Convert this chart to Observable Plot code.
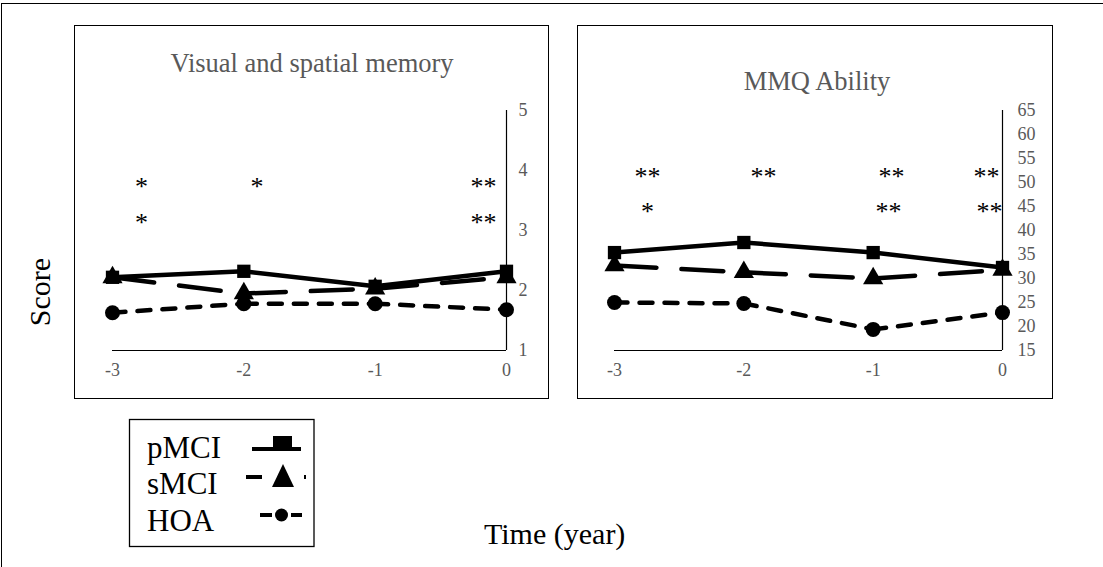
<!DOCTYPE html>
<html><head><meta charset="utf-8">
<script src="https://cdn.jsdelivr.net/npm/d3@7"></script>
<script src="https://cdn.jsdelivr.net/npm/@observablehq/plot@0.6"></script>
<style>
html,body{margin:0;padding:0;background:#fff;width:1103px;height:567px;overflow:hidden;}
#root{position:relative;width:1103px;height:567px;font-family:"Liberation Serif","Times New Roman",serif;}
.abs{position:absolute;}
.box{position:absolute;box-sizing:border-box;border:1.3px solid #000;}
</style></head><body><div id="root"></div>
<script>
// ---- data ----
const timeYears = [-3, -2, -1, 0];
const visualTicks = [1, 2, 3, 4, 5];
const mmqTicks = [15, 20, 25, 30, 35, 40, 45, 50, 55, 60, 65];

const visualPMCI = [2.22, 2.32, 2.07, 2.32];
const visualSMCI = [2.22, 1.95, 2.03, 2.22];
const visualHOA  = [1.63, 1.78, 1.78, 1.68];

const mmqPMCI = [35.4, 37.5, 35.4, 32.3];
const mmqSMCI = [32.7, 31.3, 30.0, 31.8];
const mmqHOA  = [25.0, 24.8, 19.4, 22.9];

const visualStarText = ["*", "*", "*", "**", "**"];
const visualStarX = [-2.78, -2.78, -1.90, -0.175, -0.175];
const visualStarY = [3.8, 3.2, 3.8, 3.8, 3.2];

const mmqStarText = ["**", "*", "**", "**", "**", "**", "**"];
const mmqStarX = [-2.745, -2.745, -1.848, -0.858, -0.881, -0.124, -0.10];
const mmqStarY = [52.1, 44.8, 52.1, 52.1, 44.8, 52.1, 44.8];

const seriesNames = ["pMCI", "sMCI", "HOA"];

// ---- helpers ----
const root = document.getElementById("root");
function place(el, left, top) {
  el.style.position = "absolute";
  el.style.left = left + "px";
  el.style.top = top + "px";
  root.appendChild(el);
}
const rows = vals => timeYears.map((t, i) => ({t, v: vals[i]}));
const segs = vals => d3.pairs(rows(vals)).map(([a, b]) => ({x1: a.t, y1: a.v, x2: b.t, y2: b.v}));

function panel(o) {
  const stars = o.starText.map((s, i) => ({s, x: o.starX[i], y: o.starY[i]}));
  const lw = 4.5;
  return Plot.plot({
    width: o.width, height: o.height,
    marginLeft: o.mL, marginRight: o.mR, marginTop: o.mT, marginBottom: o.mB,
    x: {domain: [-3, 0]},
    y: {domain: [o.yTicks[0], o.yTicks[o.yTicks.length - 1]]},
    style: {fontFamily: "'Liberation Serif','Times New Roman',serif", fontSize: "18px",
            background: "transparent", color: "#595959", overflow: "visible"},
    marks: [
      Plot.ruleY([o.yTicks[0]], {stroke: "#000", strokeWidth: 1.2}),
      Plot.ruleX([0], {stroke: "#000", strokeWidth: 1.2}),
      Plot.axisX({ticks: timeYears, tickSize: 0, tickPadding: 13, tickFormat: d => String(d),
                  label: null, fontSize: 18}),
      Plot.axisY({anchor: "right", ticks: o.yTicks, tickSize: 0, tickPadding: o.yPad,
                  tickFormat: d => String(d), label: null, fontSize: 18}),
      Plot.line(rows(o.pm), {x: "t", y: "v", stroke: "#000", strokeWidth: lw, strokeLinejoin: "round"}),
      Plot.dot(rows(o.pm), {x: "t", y: "v", symbol: "square", r: 7.5, fill: "#000", stroke: "none"}),
      Plot.link(segs(o.sm), {x1: "x1", y1: "y1", x2: "x2", y2: "y2", stroke: "#000", strokeWidth: lw,
                             strokeDasharray: "42,25", strokeLinecap: "round"}),
      Plot.dot(rows(o.sm), {x: "t", y: "v", symbol: "triangle", r: 7.5, fill: "#000", stroke: "none"}),
      Plot.link(segs(o.ho), {x1: "x1", y1: "y1", x2: "x2", y2: "y2", stroke: "#000", strokeWidth: lw,
                             strokeDasharray: "13,12", strokeLinecap: "round"}),
      Plot.dot(rows(o.ho), {x: "t", y: "v", symbol: "circle", r: 7.5, fill: "#000", stroke: "none"}),
      Plot.text(stars, {x: "x", y: "y", text: "s", fontSize: 26, fill: "#000", dy: 4})
    ]
  });
}

// outer frame
const frame = document.createElement("div");
frame.className = "box";
frame.style.width = "1200px"; frame.style.height = "700px"; frame.style.borderWidth = "1.5px";
place(frame, 1, 3);

// panels
const p1 = panel({width: 475, height: 374, mL: 38, mR: 43, mT: 85, mB: 49, yTicks: visualTicks, yPad: 12,
  pm: visualPMCI, sm: visualSMCI, ho: visualHOA,
  starText: visualStarText, starX: visualStarX, starY: visualStarY});
place(p1, 74, 25);
const p2 = panel({width: 476, height: 374, mL: 37, mR: 51, mT: 85, mB: 49, yTicks: mmqTicks, yPad: 15,
  pm: mmqPMCI, sm: mmqSMCI, ho: mmqHOA,
  starText: mmqStarText, starX: mmqStarX, starY: mmqStarY});
place(p2, 577, 25);

const b1 = document.createElement("div"); b1.className = "box";
b1.style.width = "475px"; b1.style.height = "374px"; place(b1, 74, 25);
const b2 = document.createElement("div"); b2.className = "box";
b2.style.width = "476px"; b2.style.height = "374px"; place(b2, 577, 25);

// overlay texts and legend
const NS = "http://www.w3.org/2000/svg";
const ov = document.createElementNS(NS, "svg");
ov.setAttribute("width", 1103); ov.setAttribute("height", 567);
ov.style.pointerEvents = "none";
ov.style.fontFamily = "'Liberation Serif','Times New Roman',serif";
place(ov, 0, 0);
function el(tag, attrs, text) {
  const e = document.createElementNS(NS, tag);
  for (const k in attrs) e.setAttribute(k, attrs[k]);
  if (text != null) e.textContent = text;
  ov.appendChild(e);
  return e;
}
el("text", {x: 312, y: 72, "text-anchor": "middle", "font-size": 26.5, fill: "#595959"}, "Visual and spatial memory");
el("text", {x: 817, y: 90, "text-anchor": "middle", "font-size": 26.5, fill: "#595959"}, "MMQ Ability");
el("text", {transform: "translate(50,292) rotate(-90)", "text-anchor": "middle", "font-size": 30, fill: "#000"}, "Score");
el("text", {x: 484, y: 544, "font-size": 30, fill: "#000"}, "Time (year)");

// legend
el("rect", {x: 129.5, y: 419.5, width: 184.5, height: 127, fill: "none", stroke: "#000", "stroke-width": 1.3});
const legY = [458, 494, 531];
seriesNames.forEach((n, i) => el("text", {x: 147, y: legY[i], "font-size": 31, fill: "#000"}, n));
// pMCI swatch
el("line", {x1: 252, x2: 301, y1: 449, y2: 449, stroke: "#000", "stroke-width": 4});
el("rect", {x: 273, y: 436, width: 19, height: 14, fill: "#000"});
// sMCI swatch
el("line", {x1: 246, x2: 262, y1: 477, y2: 477, stroke: "#000", "stroke-width": 4});
el("path", {d: "M283,464 L294,487 L272,487 Z", fill: "#000"});
el("rect", {x: 304, y: 475, width: 2, height: 4, fill: "#000"});
// HOA swatch
el("line", {x1: 260, x2: 272, y1: 515, y2: 515, stroke: "#000", "stroke-width": 4});
el("circle", {cx: 281.5, cy: 515, r: 6.5, fill: "#000"});
el("line", {x1: 291, x2: 302, y1: 515, y2: 515, stroke: "#000", "stroke-width": 4});
</script></body></html>
